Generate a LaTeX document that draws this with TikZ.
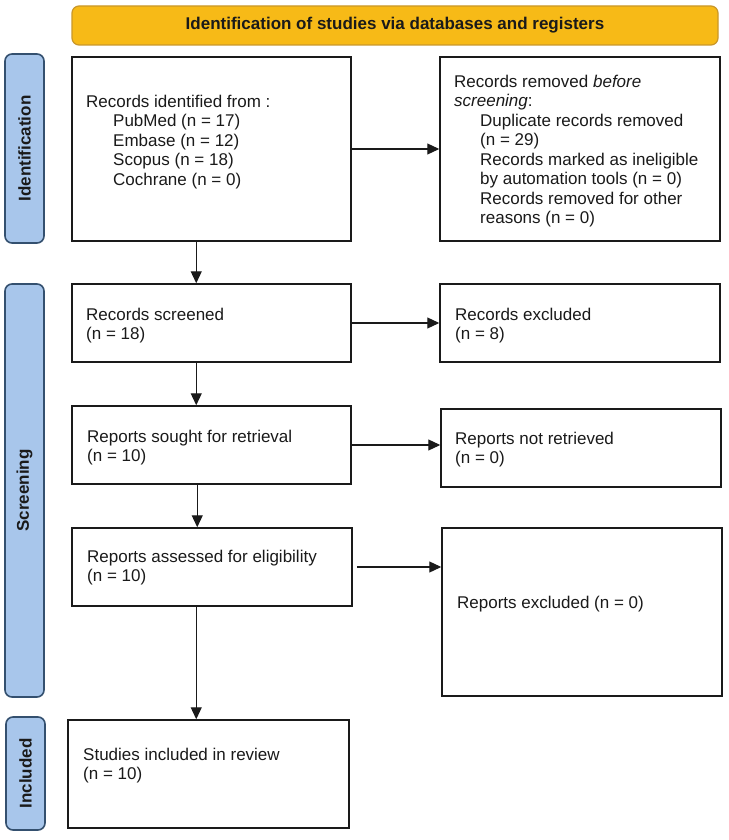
\documentclass[tikz,border=0pt]{standalone}
\usepackage{fontspec}
\setmainfont{Liberation Sans}
\usetikzlibrary{arrows.meta,fit}
\definecolor{bannerfill}{HTML}{F7BA17}
\definecolor{bannerdraw}{HTML}{C9972A}
\definecolor{sidefill}{HTML}{A8C6EB}
\definecolor{sidedraw}{HTML}{34506F}
\definecolor{ink}{HTML}{1A1A1A}
\begin{document}
\begin{tikzpicture}[x=1pt,y=-1pt,
  box/.style={draw=ink, line width=1.5pt, inner sep=0pt, fill=white},
  banner/.style={draw=bannerdraw, fill=bannerfill, line width=1.2pt, rounded corners=7pt, inner sep=0pt},
  side/.style={draw=sidedraw, fill=sidefill, line width=1.6pt, rounded corners=7pt, inner sep=0pt},
  sidetxt/.style={rotate=90, font=\fontsize{17}{19.5}\selectfont\bfseries, text=ink, inner sep=0pt},
  txt/.style={anchor=north west, inner sep=0pt, align=left, font=\fontsize{17}{19.5}\selectfont, text=ink},
  arr/.style={draw=ink, line width=1.2pt, -{Triangle[length=12pt,width=11pt]}}]
\useasboundingbox (0,0) rectangle (728,840);
\fill[white] (0,0) rectangle (728,840);

% banner
\node[banner, fit={(72,6) (718,45)}] (ban) {};
\node[font=\fontsize{17}{19.5}\selectfont\bfseries, text=ink, inner sep=0pt] (bantxt) at (ban.center) {Identification of studies via databases and registers};

% side labels
\node[side, fit={(5,54) (44,243)}] (labid) {};
\node[sidetxt] (labidtxt) at (labid.center) {Identification};
\node[side, fit={(5,284) (44,697)}] (labsc) {};
\node[sidetxt] (labsctxt) at (labsc.center) {Screening};
\node[side, fit={(6,717) (45,830)}] (labin) {};
\node[sidetxt] (labintxt) at (labin.center) {Included};

% boxes
\node[box, fit={(72,57) (351,241)}] (box1) {};
\node[box, fit={(440,57) (720,241)}] (box2) {};
\node[box, fit={(72,284) (351,362)}] (screened) {};
\node[box, fit={(440,284) (720,362)}] (excluded) {};
\node[box, fit={(72,406) (351,484)}] (sought) {};
\node[box, fit={(441,409) (721,487)}] (notretr) {};
\node[box, fit={(72,528) (352,606)}] (assessed) {};
\node[box, fit={(442,528) (722,696)}] (repexcl) {};
\node[box, fit={(68,720) (349,828)}] (studies) {};

% texts
\node[txt] (t1) at (86,94.5) {Records identified from :\\
\hspace*{27pt}PubMed (n = 17)\\
\hspace*{27pt}Embase (n = 12)\\
\hspace*{27pt}Scopus (n = 18)\\
\hspace*{27pt}Cochrane (n = 0)};
\node[txt] (t2) at (454,74.5) {Records removed \textit{before}\\
\textit{screening}:\\
\hspace*{26pt}Duplicate records removed\\
\hspace*{26pt}(n = 29)\\
\hspace*{26pt}Records marked as ineligible\\
\hspace*{26pt}by automation tools (n = 0)\\
\hspace*{26pt}Records removed for other\\
\hspace*{26pt}reasons (n = 0)};
\node[txt] (t3) at (86,307.5) {Records screened\\(n = 18)};
\node[txt] (t4) at (455,307.5) {Records excluded\\(n = 8)};
\node[txt] (t5) at (87,429.5) {Reports sought for retrieval\\(n = 10)};
\node[txt] (t6) at (455,431.5) {Reports not retrieved\\(n = 0)};
\node[txt] (t7) at (87,549.5) {Reports assessed for eligibility\\(n = 10)};
\node[txt] (t8) at (457,595.5) {Reports excluded (n = 0)};
\node[txt] (t9) at (83,747.5) {Studies included in review\\(n = 10)};

% arrows
\draw[arr] (box1.east) -- (box2.west);
\draw[arr] (screened.east) -- (excluded.west);
\draw[arr] (sought.east) -- (sought.east -| notretr.west);
\draw[arr] ([xshift=4pt]assessed.east) -- (assessed.east -| repexcl.west);
\draw[arr] ([xshift=125pt]box1.south west) -- ([xshift=125pt]screened.north west);
\draw[arr] ([xshift=125pt]screened.south west) -- ([xshift=125pt]sought.north west);
\draw[arr] ([xshift=126pt]sought.south west) -- ([xshift=126pt]assessed.north west);
\draw[arr] ([xshift=125pt]assessed.south west) -- ([xshift=125pt]assessed.south west |- studies.north);
\end{tikzpicture}
\end{document}
